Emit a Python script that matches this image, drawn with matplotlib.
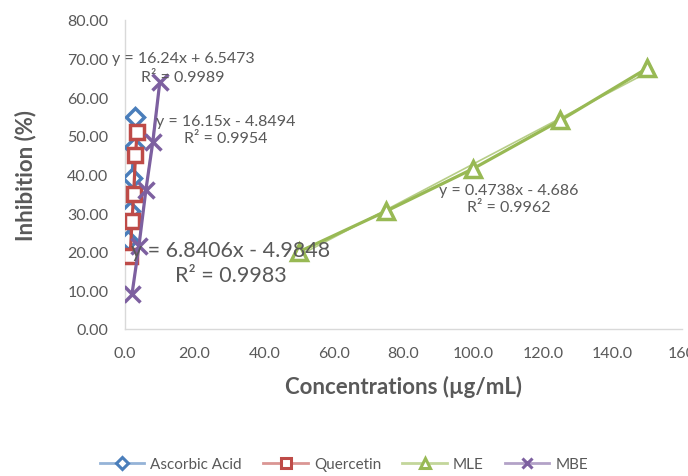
import numpy as np
import matplotlib.pyplot as plt
from matplotlib.lines import Line2D

plt.rcParams['font.family'] = ['Lato', 'DejaVu Sans']

# data
aa_x = [1, 1.5, 2, 2.5, 3]
aa_y = [23, 30.5, 39, 47, 55]
q_x = [1.5, 2, 2.5, 3, 3.5]
q_y = [19, 28, 35, 45, 51]
mle_x = [50, 75, 100, 125, 150]
mle_y = [20, 30.5, 41.5, 54, 67.5]
mbe_x = [2, 4, 6, 8, 10]
mbe_y = [9, 21.5, 36, 48.5, 64]

names = ['Ascorbic Acid', 'Quercetin', 'MLE', 'MBE']
colors = ['#4A7EBB', '#BE4B48', '#98B954', '#7D60A0']
markers = ['D', 's', '^', 'x']
msizes = [9, 10.5, 11.5, 11]
fits = [(16.24, 6.5473, 0.9989), (16.15, -4.8494, 0.9954),
        (0.4738, -4.686, 0.9962), (6.8406, -4.9848, 0.9983)]

grey = '#595959'

fig = plt.figure(figsize=(6.88, 4.77), dpi=100)
ax = fig.add_axes([0.1817, 0.3082, 0.8096, 0.6478])

series = [(aa_x, aa_y), (q_x, q_y), (mle_x, mle_y), (mbe_x, mbe_y)]
for (xs, ys), c, m, ms, (a, b, r2) in zip(series, colors, markers, msizes, fits):
    xs = np.array(xs)
    ax.plot(xs, ys, color=c, lw=2.3, marker=m, ms=ms,
            mfc='white' if m != 'x' else c, mec=c, mew=2.5, zorder=3)
    ax.plot(xs, a * xs + b, color=c, lw=1.2, alpha=0.7, zorder=2)

# trendline equations
ax.text(16.7, 67.8, 'y = 16.24x + 6.5473\nR² = 0.9989', ha='center', va='center',
        fontsize=11.5, color=grey, linespacing=1.45)
ax.text(29.0, 51.6, 'y = 16.15x - 4.8494\nR² = 0.9954', ha='center', va='center',
        fontsize=11.5, color=grey, linespacing=1.3)
ax.text(30.4, 17.3, 'y = 6.8406x - 4.9848\nR² = 0.9983', ha='center', va='center',
        fontsize=15.5, color=grey, linespacing=1.3)
ax.text(110.3, 33.7, 'y = 0.4738x - 4.686\nR² = 0.9962', ha='center', va='center',
        fontsize=11.5, color=grey, linespacing=1.3)

ax.set_xlim(0, 160)
ax.set_ylim(0, 80)
ax.set_xticks(np.arange(0, 161, 20))
ax.set_xticklabels([f'{v:.1f}' for v in range(0, 160, 20)] + ['160'])
ax.set_yticks(np.arange(0, 81, 10))
ax.set_yticklabels([f'{v:.2f}' for v in range(0, 81, 10)])
ax.tick_params(axis='y', length=0, labelsize=11.5, labelcolor=grey, pad=12)
ax.tick_params(axis='x', length=0, labelsize=11.5, labelcolor=grey, pad=12)
for s in ['top', 'right']:
    ax.spines[s].set_visible(False)
for s in ['left', 'bottom']:
    ax.spines[s].set_color('#D9D9D9')
    ax.spines[s].set_linewidth(1)

ax.set_xlabel('Concentrations (µg/mL)', fontsize=16, fontweight='bold', color=grey, labelpad=11)
ax.set_ylabel('Inhibition (%)', fontsize=16, fontweight='bold', color=grey, labelpad=22)

light = ['#95B3D7', '#DA9694', '#C3D69B', '#B3A2C7']
handles = [Line2D([0], [0], color=l, lw=2, marker=m, ms=7 if m != 'D' else 6,
                  mfc='white' if m != 'x' else c, mec=c, mew=2.2)
           for l, c, m in zip(light, colors, markers)]
fig.legend(handles, names, loc='center', bbox_to_anchor=(0.5, 0.025), ncol=4,
           frameon=False, fontsize=11, labelcolor=grey, columnspacing=1.4,
           handlelength=2.9, handletextpad=0.4)

fig.savefig('out.png', dpi=100)
